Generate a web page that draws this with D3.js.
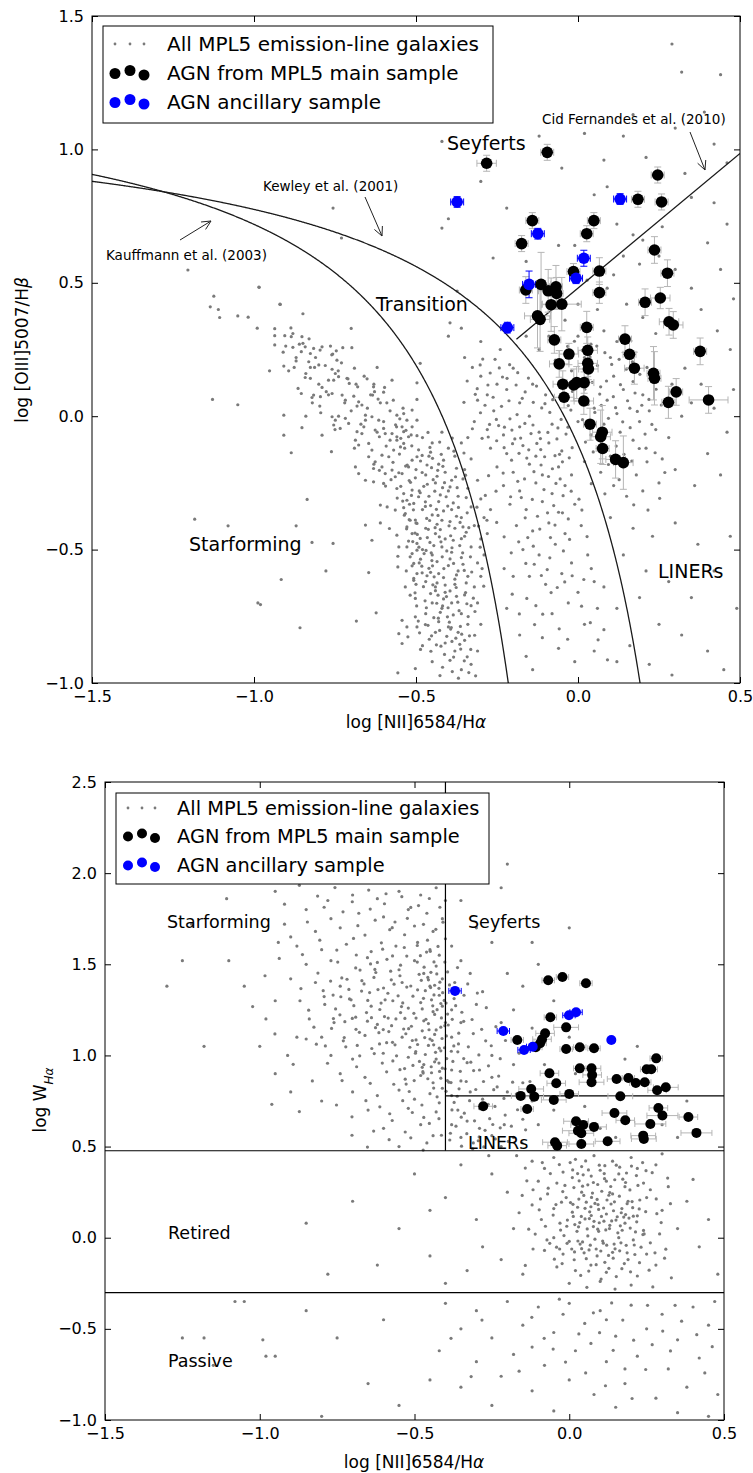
<!DOCTYPE html>
<html><head><meta charset="utf-8">
<script src="https://cdn.jsdelivr.net/npm/d3@7"></script>
<style>body{margin:0;background:#fff}text{font-family:"DejaVu Sans",sans-serif}</style>
</head><body><svg id="c" width="753" height="1473"></svg>
<script>
// ---------------- DATA ----------------
const xTicks = [-1.5,-1.0,-0.5,0.0,0.5];
const bptYTicks = [-1.0,-0.5,0.0,0.5,1.0,1.5];
const whanYTicks = [-1.0,-0.5,0.0,0.5,1.0,1.5,2.0,2.5];
const legendLabels = ["All MPL5 emission-line galaxies","AGN from MPL5 main sample","AGN ancillary sample"];

// BPT: AGN main sample
const bptAgnX = [-0.282,-0.095,0.246,0.185,0.258,-0.141,0.049,0.027,-0.174,0.236,0.276,-0.014,0.066,-0.161,-0.114,-0.092,-0.068,-0.066,0.066,0.207,0.254,-0.083,-0.050,-0.125,-0.117,0.027,0.281,0.294,-0.073,0.145,0.030,-0.028,0.159,0.377,-0.058,0.030,0.032,0.174,0.233,0.236,-0.047,-0.013,-0.004,0.019,0.303,0.279,0.403,-0.043,0.018,0.037,0.075,0.070,0.076,0.116,0.140];
const bptAgnY = [0.948,0.989,0.904,0.813,0.803,0.733,0.733,0.684,0.647,0.623,0.536,0.542,0.544,0.473,0.494,0.470,0.485,0.460,0.463,0.427,0.443,0.418,0.420,0.376,0.363,0.333,0.354,0.342,0.286,0.289,0.247,0.233,0.232,0.243,0.196,0.198,0.177,0.180,0.161,0.142,0.120,0.117,0.126,0.126,0.091,0.052,0.061,0.071,0.057,-0.030,-0.060,-0.077,-0.121,-0.162,-0.174];
const bptAgnXErr = [.03,.02,.02,.02,.02,.02,.02,.02,.02,.02,.02,.02,.02,.02,.03,.03,.02,.02,.02,.02,.03,.03,.06,.04,.03,.02,.03,.03,.02,.02,.03,.03,.02,.02,.03,.03,.03,.03,.02,.02,.03,.03,.03,.03,.02,.02,.06,.03,.03,.02,.03,.03,.02,.03,.03];
const bptAgnYErr = [.03,.03,.03,.03,.03,.03,.03,.03,.03,.05,.05,.03,.05,.05,.12,.08,.08,.06,.04,.05,.04,.10,.10,.12,.12,.06,.05,.05,.05,.05,.05,.04,.05,.05,.05,.05,.04,.06,.10,.10,.05,.06,.06,.04,.05,.06,.05,.04,.05,.06,.10,.10,.06,.07,.10];
// BPT: ancillary
const bptAncX = [-0.373,0.130,-0.124,0.018,-0.006,-0.151,-0.218];
const bptAncY = [0.803,0.814,0.684,0.592,0.517,0.494,0.332];
const bptAncXErr = [.02,.02,.02,.02,.02,.02,.02];
const bptAncYErr = [.02,.02,.02,.03,.02,.05,.02];

// WHAN: AGN main sample
const whanAgnX = [-0.068,-0.022,0.054,-0.061,-0.010,-0.078,-0.088,-0.168,-0.094,-0.108,-0.010,0.034,0.080,0.281,0.034,0.072,0.250,0.265,-0.064,0.074,-0.042,0.072,0.153,0.191,0.215,0.244,0.284,0.312,-0.123,-0.113,-0.157,-0.050,0.000,0.165,-0.278,-0.136,0.288,0.301,0.385,0.146,0.181,0.022,0.045,0.080,0.262,0.028,0.039,0.411,0.239,0.241,0.124,-0.046,-0.039,0.039];
const whanAgnY = [1.412,1.430,1.396,1.209,1.154,1.121,1.089,1.085,1.067,1.045,1.035,1.045,1.039,0.984,0.929,0.929,0.924,0.924,0.902,0.893,0.847,0.853,0.871,0.876,0.849,0.853,0.809,0.825,0.816,0.774,0.778,0.756,0.789,0.776,0.721,0.706,0.712,0.670,0.662,0.684,0.644,0.639,0.619,0.608,0.624,0.587,0.573,0.575,0.560,0.542,0.529,0.524,0.505,0.514];
const whanAgnXErr = [.02,.02,.02,.02,.04,.03,.03,.02,.02,.02,.02,.02,.02,.02,.02,.03,.02,.02,.03,.03,.03,.04,.03,.02,.02,.02,.03,.04,.04,.03,.03,.04,.03,.04,.03,.02,.03,.05,.03,.04,.03,.04,.04,.04,.05,.05,.04,.05,.04,.04,.04,.04,.03,.04];
const whanAgnYErr = [.01,.01,.01,.01,.02,.01,.01,.01,.01,.01,.01,.01,.01,.01,.01,.01,.01,.01,.02,.01,.01,.02,.01,.01,.01,.01,.01,.02,.01,.01,.01,.02,.01,.01,.01,.01,.01,.02,.01,.02,.01,.02,.01,.02,.02,.02,.01,.02,.02,.01,.01,.02,.01,.02];
// WHAN: ancillary
const whanAncX = [-0.369,-0.001,0.022,-0.213,0.136,-0.118,-0.146];
const whanAncY = [1.354,1.220,1.237,1.134,1.085,1.048,1.030];
const whanAncXErr = [.02,.02,.02,.02,.01,.02,.02];

// Gray: all MPL5 emission-line galaxies, BPT plane (flat x,y pairs)
const bptGray = [
-1.124,0.45,-1.135,0.41,-1.11,0.40,-1.106,0.37,-1.05,0.376,-1.018,0.371,-0.984,0.483,-0.919,0.419,-0.849,0.384,-0.99,0.33,
-0.936,0.328,-0.936,0.302,-0.936,0.267,-0.905,0.302,-0.886,0.331,-0.885,0.298,-0.902,0.263,-0.880,0.258,
-0.852,0.298,-0.849,0.273,-0.842,0.26,-0.854,0.242,-0.826,0.235,-0.816,0.254,-0.796,0.248,
-0.764,0.263,-0.746,0.245,-0.726,0.257,-0.698,0.257,-0.757,0.233,-0.744,0.21,
-0.908,0.188,-0.893,0.17,-0.876,0.183,-0.87,0.207,-0.831,0.204,-0.826,0.183,-0.813,0.183,-0.80,0.192,-0.952,0.17,
-0.842,0.145,-0.826,0.142,-0.864,0.104,-0.854,0.085,-0.821,0.07,-0.816,0.079,
-0.759,0.176,-0.749,0.16,-0.754,0.135,-0.739,0.148,-0.77,0.135,-0.713,0.142,-0.706,0.123,-0.685,0.12,-0.651,0.14,-0.62,0.183,
-0.79,0.108,-0.777,0.092,-0.795,0.073,-0.759,0.085,-0.728,0.079,-0.718,0.06,-0.692,0.075,-0.677,0.054,-0.667,0.042,-0.682,0.038,
-0.631,0.11,-0.628,0.092,-0.634,0.079,-0.597,0.108,-0.574,0.135,-0.617,0.064,-0.59,0.05,
-0.797,0.038,-0.794,0.013,-0.759,-0.002,-0.739,0.0,-0.718,-0.008,-0.754,-0.033,-0.734,-0.046,-0.708,-0.027,-0.749,-0.015,
-0.84,0.0,-0.908,0.004,-0.908,-0.071,-0.852,-0.043,-0.79,-0.071,-0.885,-0.137,-0.761,-0.133,-1.128,0.063,-1.05,0.043,
-0.682,-0.058,-0.661,-0.04,-0.667,-0.065,-0.687,-0.09,-0.677,-0.108,-0.646,-0.102,-0.656,-0.015,-0.636,-0.002,-0.656,0.004,
-0.615,-0.015,-0.6,-0.046,-0.595,-0.065,-0.626,-0.052,-0.613,-0.077,
-0.574,-0.065,-0.559,-0.077,-0.538,-0.058,-0.559,-0.09,-0.538,-0.102,-0.523,-0.077,-0.548,-0.115,-0.569,-0.127,-0.584,-0.152,-0.605,-0.146,
-0.636,-0.127,-0.646,-0.152,-0.626,-0.171,-0.605,-0.19,-0.631,-0.196,-0.595,-0.215,-0.574,-0.202,-0.564,-0.227,-0.543,-0.215,-0.523,-0.19,-0.512,-0.165,-0.497,-0.152,
-0.687,-0.19,-0.677,-0.215,-0.656,-0.24,-0.631,-0.246,-0.6,-0.252,-0.559,-0.271,-0.538,-0.29,-0.512,-0.277,-0.528,-0.315,-0.507,-0.327,-0.492,-0.302,
-0.61,-0.333,-0.589,-0.34,-0.564,-0.352,-0.533,-0.365,-0.518,-0.39,-0.497,-0.402,-0.528,-0.415,-0.512,-0.44,-0.497,-0.477,-0.528,-0.49,-0.512,-0.515,-0.497,-0.502,
-0.656,-0.408,-0.61,-0.40,-0.582,-0.421,-0.636,-0.465,-0.559,-0.446,-0.553,-0.49,-0.556,-0.525,-0.556,-0.565,
-0.836,-0.312,-1.183,-0.386,-1.08,-0.411,-0.87,-0.411,-0.821,-0.473,-0.756,-0.477,-0.778,-0.58,-0.646,-0.586,-0.916,-0.612,-0.98,-0.706,-0.623,-0.737,-0.684,-0.768,-0.858,-0.793,
-0.507,-0.552,-0.497,-0.59,-0.533,-0.64,-0.518,-0.671,-0.502,-0.683,-0.507,-0.615,-0.543,-0.765,-0.528,-0.79,-0.553,-0.815,-0.525,-0.827,-0.543,-0.852,-0.502,-0.752,-0.497,-0.79,
-0.556,-0.962,-0.502,-0.946,-0.70,0.329,-0.497,0.125,-0.497,0.063,-0.487,0.198,
-0.559,0.004,-0.538,0.01,-0.512,0.023,-0.528,-0.015,-0.543,-0.04,-0.512,-0.04,-0.497,-0.015,
-0.48,-0.08,-0.45,-0.10,-0.42,-0.06,-0.40,-0.12,-0.46,-0.15,-0.43,-0.18,-0.38,-0.15,-0.36,-0.10,-0.50,-0.20,-0.47,-0.22,-0.44,-0.25,-0.41,-0.21,-0.39,-0.24,-0.35,-0.20,-0.33,-0.16,
-0.49,-0.28,-0.46,-0.30,-0.43,-0.32,-0.40,-0.28,-0.37,-0.30,-0.34,-0.27,-0.31,-0.24,-0.52,-0.33,-0.48,-0.35,-0.45,-0.37,-0.42,-0.39,-0.39,-0.35,-0.36,-0.38,-0.33,-0.34,-0.30,-0.31,
-0.50,-0.40,-0.47,-0.42,-0.44,-0.44,-0.41,-0.46,-0.38,-0.42,-0.35,-0.45,-0.32,-0.41,-0.29,-0.38,-0.51,-0.47,-0.48,-0.50,-0.45,-0.52,-0.42,-0.49,-0.39,-0.51,-0.36,-0.53,-0.33,-0.49,-0.30,-0.46,
-0.49,-0.55,-0.46,-0.57,-0.43,-0.59,-0.40,-0.56,-0.37,-0.58,-0.34,-0.60,-0.31,-0.55,-0.47,-0.62,-0.44,-0.64,-0.41,-0.66,-0.38,-0.63,-0.35,-0.67,-0.32,-0.64,
-0.45,-0.70,-0.42,-0.72,-0.39,-0.70,-0.36,-0.74,-0.33,-0.71,-0.43,-0.77,-0.40,-0.79,-0.37,-0.81,-0.34,-0.78,-0.41,-0.85,-0.38,-0.88,-0.35,-0.84,
-0.455,-0.135,-0.415,-0.165,-0.375,-0.195,-0.435,-0.225,-0.465,-0.255,-0.395,-0.265,-0.355,-0.235,-0.425,-0.295,-0.385,-0.325,-0.345,-0.305,-0.455,-0.335,-0.415,-0.355,-0.375,-0.375,
-0.435,-0.405,-0.395,-0.395,-0.355,-0.415,-0.465,-0.455,-0.425,-0.425,-0.385,-0.465,-0.345,-0.435,-0.445,-0.485,-0.405,-0.505,-0.365,-0.485,-0.475,-0.515,-0.435,-0.545,-0.395,-0.535,
-0.355,-0.555,-0.455,-0.585,-0.415,-0.605,-0.375,-0.595,-0.345,-0.625,-0.435,-0.625,-0.395,-0.655,-0.455,-0.665,-0.415,-0.685,-0.375,-0.675,-0.425,-0.735,-0.385,-0.745,-0.445,-0.755,
-0.405,-0.825,-0.365,-0.855,-0.395,-0.915,-0.36,-0.95,-0.44,-0.81,-0.47,-0.74,-0.50,-0.63,-0.53,-0.58,-0.31,-0.70,-0.30,-0.60,-0.29,-0.52,-0.28,-0.44,-0.27,-0.35,-0.31,-0.88,-0.33,-0.93,-0.45,-0.92,-0.48,-0.86,-0.30,-0.78,
-0.30,0.15,-0.25,0.12,-0.28,0.08,-0.22,0.10,-0.18,0.05,-0.26,0.02,-0.21,-0.01,-0.15,0.00,-0.32,-0.02,-0.28,-0.05,-0.23,-0.07,-0.18,-0.04,-0.12,-0.06,-0.08,-0.03,
-0.27,-0.12,-0.22,-0.14,-0.17,-0.11,-0.13,-0.15,-0.09,-0.10,-0.05,-0.13,-0.25,-0.19,-0.20,-0.21,-0.15,-0.18,-0.11,-0.22,-0.06,-0.19,-0.02,-0.22,
-0.23,-0.26,-0.18,-0.28,-0.13,-0.25,-0.08,-0.29,-0.04,-0.26,-0.21,-0.33,-0.16,-0.35,-0.11,-0.32,-0.06,-0.36,-0.01,-0.33,-0.19,-0.41,-0.14,-0.43,-0.09,-0.40,-0.04,-0.44,0.01,-0.41,
-0.17,-0.50,-0.12,-0.52,-0.07,-0.48,-0.02,-0.55,-0.15,-0.60,-0.10,-0.63,-0.05,-0.59,0.00,-0.66,-0.13,-0.71,-0.08,-0.74,-0.03,-0.70,0.02,-0.78,-0.11,-0.83,-0.06,-0.87,-0.01,-0.92,-0.14,-0.95,0.05,-0.88,
-0.35,0.22,-0.30,0.28,-0.24,0.25,-0.20,0.18,-0.14,0.12,-0.10,0.08,-0.40,0.30,-0.36,0.33,-0.31,0.06,-0.34,-0.08,
-0.245,-0.035,-0.195,-0.085,-0.145,-0.065,-0.115,-0.125,-0.065,-0.085,-0.205,-0.165,-0.165,-0.235,-0.105,-0.275,-0.055,-0.235,-0.175,-0.305,-0.125,-0.375,-0.075,-0.335,-0.03,-0.385,
-0.155,-0.455,-0.085,-0.455,-0.045,-0.505,-0.135,-0.555,-0.095,-0.575,0.03,-0.52,0.05,-0.62,0.06,-0.72,0.08,-0.80,-0.20,-0.60,-0.22,-0.72,-0.18,-0.82,-0.16,-0.90,
0.00,0.30,0.04,0.27,0.08,0.32,0.12,0.28,0.15,0.24,0.10,0.22,0.06,0.19,0.02,0.22,-0.02,0.17,0.03,0.14,0.07,0.11,0.11,0.15,0.14,0.10,0.17,0.13,0.20,0.08,
0.09,0.06,0.05,0.03,0.01,0.07,-0.03,0.04,0.12,0.01,0.16,0.03,0.19,-0.02,0.22,0.02,0.08,-0.03,0.04,-0.07,0.00,-0.02,0.13,-0.06,0.17,-0.09,0.21,-0.12,0.24,-0.05,
0.06,-0.12,0.10,-0.15,0.14,-0.19,0.18,-0.22,0.26,-0.16,0.02,-0.17,0.07,-0.21,0.11,-0.26,0.15,-0.30,0.20,-0.28,0.25,-0.25,0.30,-0.20,0.28,-0.08,0.32,0.00,
0.35,0.05,0.29,0.12,0.33,0.18,0.38,0.12,0.42,0.03,0.46,-0.06,0.40,-0.14,0.36,-0.26,0.44,-0.22,0.48,0.10,0.47,0.25,0.43,0.32,0.38,0.40,0.35,0.48,0.44,0.55,0.48,0.44,
0.30,0.55,0.25,0.60,0.20,0.66,0.40,0.65,0.46,0.72,0.42,0.80,0.35,0.82,0.21,0.97,0.14,1.05,0.30,1.08,0.39,1.14,0.29,1.395,0.32,1.29,0.44,1.28,0.08,0.96,0.02,1.06,-0.05,0.93,
-0.22,0.78,-0.30,0.88,-0.40,0.74,-0.16,0.58,-0.06,0.64,0.09,0.86,0.12,0.72,0.17,0.68,0.19,0.57,0.14,0.60,0.09,0.48,0.15,0.42,0.20,0.37,0.24,0.31,0.06,0.40,0.00,0.42,-0.04,0.36,-0.09,0.30,-0.12,0.25,-0.07,0.21,-0.16,0.30,
0.10,-0.38,0.17,-0.42,0.23,-0.45,0.30,-0.40,0.37,-0.48,0.14,-0.52,0.21,-0.58,0.28,-0.62,0.35,-0.68,0.42,-0.58,0.47,-0.45,0.49,-0.72,0.19,-0.68,0.12,-0.72,0.25,-0.78,0.32,-0.82,0.40,-0.88,0.16,-0.86,0.22,-0.93,0.29,-0.97,0.45,-0.95,0.08,-0.64,0.12,-0.92,
-0.756,0.78,-0.73,0.668,-0.42,1.03,-0.42,0.705,-0.262,0.593,-0.373,0.469,-1.204,0.548,-0.985,0.484,-0.92,0.42,-0.395,0.35,-0.988,-0.70,
-0.88,0.31,-0.86,0.27,-0.83,0.29,-0.81,0.22,-0.79,0.26,-0.78,0.19,-0.76,0.23,-0.74,0.17,-0.73,0.20,-0.71,0.14,-0.69,0.18,-0.68,0.11,-0.66,0.15,-0.64,0.08,-0.63,0.12,-0.61,0.05,-0.60,0.09,
-0.58,0.02,-0.57,0.06,-0.55,-0.01,-0.54,0.03,-0.72,0.05,-0.70,0.02,-0.67,-0.03,-0.65,0.03,-0.62,-0.06,-0.60,-0.02,-0.58,-0.09,-0.56,-0.04,-0.535,-0.12,-0.515,-0.07,-0.80,0.12,-0.77,0.08,
-0.84,0.16,-0.87,0.22,-0.91,0.24,-0.82,0.05,-0.75,-0.05,-0.69,-0.12,-0.63,-0.18,
-0.553,-0.212,-0.547,-0.263,-0.541,-0.318,-0.536,-0.371,-0.529,-0.422,-0.523,-0.468,-0.518,-0.527,-0.512,-0.561,-0.507,-0.608,-0.503,-0.662,-0.498,-0.711,-0.493,-0.768,-0.489,-0.812,-0.486,-0.874,
-0.527,-0.183,-0.521,-0.241,-0.514,-0.297,-0.508,-0.351,-0.502,-0.389,-0.496,-0.443,-0.491,-0.491,-0.486,-0.536,-0.481,-0.587,-0.477,-0.639,-0.472,-0.692,-0.468,-0.718,-0.463,-0.784,-0.459,-0.836,-0.454,-0.881,
-0.492,-0.126,-0.486,-0.168,-0.481,-0.211,-0.476,-0.263,-0.471,-0.321,-0.467,-0.383,-0.462,-0.424,-0.457,-0.473,-0.453,-0.512,-0.449,-0.561,-0.444,-0.602,-0.440,-0.654,-0.436,-0.701,-0.431,-0.757,-0.427,-0.803,-0.423,-0.862,-0.418,-0.941,
-0.463,-0.061,-0.457,-0.117,-0.452,-0.193,-0.447,-0.238,-0.442,-0.281,-0.437,-0.349,-0.432,-0.372,-0.428,-0.452,-0.423,-0.471,-0.419,-0.527,-0.414,-0.571,-0.410,-0.633,-0.406,-0.676,-0.401,-0.718,-0.397,-0.772,-0.393,-0.798,-0.389,-0.844,-0.384,-0.903,
-0.427,-0.097,-0.422,-0.143,-0.417,-0.188,-0.412,-0.249,-0.407,-0.302,-0.402,-0.337,-0.398,-0.411,-0.393,-0.448,-0.389,-0.493,-0.384,-0.552,-0.380,-0.611,-0.376,-0.642,-0.371,-0.697,-0.367,-0.729,-0.363,-0.788,-0.359,-0.817,
-0.388,-0.082,-0.383,-0.131,-0.378,-0.227,-0.373,-0.268,-0.369,-0.342,-0.364,-0.398,-0.360,-0.459,-0.356,-0.512,-0.351,-0.578,-0.347,-0.661,-0.343,-0.703,-0.339,-0.751,-0.335,-0.823,-0.331,-0.874,
-0.352,-0.138,-0.347,-0.221,-0.342,-0.362,-0.337,-0.418,-0.332,-0.527,-0.328,-0.584,-0.323,-0.682,-0.318,-0.732,-0.312,-0.341,-0.307,-0.412,-0.302,-0.491,-0.296,-0.571,-0.291,-0.637,-0.286,-0.297,-0.281,-0.39,
-0.326,0.183,-0.294,0.214,-0.271,0.162,-0.243,0.181,-0.219,0.142,-0.191,0.117,-0.163,0.091,-0.138,0.052,-0.112,0.031,-0.087,0.014,-0.062,-0.044,-0.037,-0.067,-0.018,-0.118,
-0.311,0.103,-0.287,0.041,-0.262,0.071,-0.236,0.037,-0.213,0.058,-0.188,0.006,-0.164,-0.027,-0.139,-0.033,-0.116,-0.084,-0.093,-0.061,-0.071,-0.148,-0.048,-0.171,-0.027,-0.156,
-0.296,-0.083,-0.273,-0.031,-0.251,-0.092,-0.228,-0.118,-0.204,-0.052,-0.182,-0.139,-0.158,-0.157,-0.136,-0.208,-0.114,-0.183,-0.091,-0.226,-0.068,-0.252,-0.046,-0.298,-0.021,-0.281,0.003,-0.311,
-0.276,-0.223,-0.253,-0.281,-0.231,-0.213,-0.208,-0.302,-0.186,-0.244,-0.163,-0.381,-0.141,-0.312,-0.118,-0.423,-0.094,-0.362,-0.071,-0.408,-0.048,-0.362,-0.026,-0.462,0.012,-0.352,0.028,-0.451,
-0.251,-0.398,-0.228,-0.452,-0.206,-0.512,-0.183,-0.471,-0.161,-0.552,-0.138,-0.487,-0.113,-0.597,-0.087,-0.531,-0.064,-0.642,-0.041,-0.621,-0.018,-0.598,0.018,-0.612,0.041,-0.571,
-0.228,-0.571,-0.203,-0.667,-0.181,-0.741,-0.158,-0.683,-0.134,-0.781,-0.109,-0.742,-0.083,-0.661,-0.058,-0.797,-0.032,-0.836,0.011,-0.712,0.038,-0.774,0.062,-0.838,0.091,-0.913,
-0.032,0.262,-0.011,0.281,0.013,0.247,0.037,0.222,0.058,0.263,0.083,0.238,0.104,0.194,0.127,0.213,0.149,0.176,0.168,0.204,0.191,0.157,0.213,0.183,
-0.041,0.118,-0.017,0.093,0.021,0.101,0.044,0.127,0.067,0.083,0.088,0.132,0.109,0.073,0.131,0.118,0.153,0.058,0.176,0.087,0.197,0.041,0.219,0.063,0.241,0.101,
-0.022,0.023,0.014,-0.013,0.031,0.044,0.052,0.014,0.072,0.041,0.094,-0.008,0.116,0.032,0.138,-0.021,0.161,-0.043,0.183,0.018,0.207,-0.067,0.228,-0.031,0.257,0.042,
0.023,-0.097,0.047,-0.134,0.071,-0.093,0.094,-0.181,0.118,-0.112,0.142,-0.143,0.166,-0.168,0.189,-0.121,0.213,-0.171,0.238,-0.137,0.268,-0.211,0.041,-0.253,0.083,-0.291,0.127,-0.238,0.172,-0.332,0.216,-0.352,0.252,-0.308,
0.028,0.51,0.11,0.53,-0.01,0.64,0.26,0.71,0.33,0.91,0.42,1.02,0.46,0.95,0.17,1.13,-0.12,1.05,0.05,0.83,
-0.592,-0.112,-0.571,-0.173,-0.551,-0.142,-0.532,-0.187,-0.517,-0.248,-0.502,-0.231,-0.487,-0.287,-0.471,-0.338,-0.458,-0.391,-0.441,-0.418,
-0.613,-0.203,-0.594,-0.262,-0.577,-0.238,-0.558,-0.307,-0.538,-0.343,-0.521,-0.388,-0.503,-0.438,-0.487,-0.458,-0.469,-0.503,-0.451,-0.541,
-0.563,-0.032,-0.547,-0.083,-0.531,-0.053,-0.513,-0.111,-0.497,-0.073,-0.481,-0.147,-0.466,-0.183,-0.449,-0.158,-0.433,-0.203,-0.418,-0.268,
-0.482,-0.562,-0.466,-0.598,-0.448,-0.632,-0.432,-0.671,-0.418,-0.711,-0.403,-0.752,-0.391,-0.792,-0.377,-0.832,-0.362,-0.873,-0.351,-0.917,-0.337,-0.961,
-0.471,-0.781,-0.452,-0.823,-0.437,-0.857,-0.412,-0.893,-0.388,-0.957,-0.369,-0.982,-0.426,-0.972,-0.342,-0.902,-0.319,-0.821,-0.316,-0.973,
-0.342,0.132,-0.317,0.082,-0.302,0.192,-0.278,0.117,-0.256,0.213,-0.233,0.147,-0.211,0.193,-0.186,0.163,-0.172,0.067,-0.153,0.143,-0.128,0.113,-0.102,0.047,-0.078,0.062,-0.052,-0.012,-0.031,-0.041,
-0.352,0.052,-0.326,-0.047,-0.301,0.013,-0.277,-0.078,-0.252,-0.012,-0.227,-0.041,-0.202,-0.103,-0.177,-0.082,-0.152,-0.126,-0.127,-0.102,-0.103,-0.152,-0.079,-0.197,-0.057,-0.143
];

// Gray: WHAN plane (flat x,y pairs)
const whanGray = [
-0.95,1.90,-0.88,1.95,-0.80,2.00,-0.72,1.98,-0.65,2.02,-0.58,1.96,-0.50,2.05,-0.45,1.98,-0.42,2.10,-0.62,2.12,-0.70,2.08,-0.78,1.85,-0.70,1.88,-0.62,1.86,-0.55,1.90,-0.48,1.88,-0.43,1.92,-0.40,1.85,
-0.85,1.80,-0.77,1.75,-0.68,1.78,-0.60,1.76,-0.52,1.80,-0.46,1.78,-0.41,1.75,-0.92,1.72,-0.82,1.68,-0.74,1.70,-0.66,1.66,-0.58,1.69,-0.50,1.71,-0.44,1.68,-0.40,1.64,
-0.88,1.60,-0.80,1.58,-0.72,1.61,-0.64,1.57,-0.56,1.60,-0.49,1.62,-0.45,1.58,-0.42,1.55,-0.85,1.50,-0.77,1.52,-0.69,1.48,-0.62,1.51,-0.55,1.47,-0.50,1.52,-0.47,1.45,-0.43,1.49,-0.41,1.42,
-0.90,1.42,-0.82,1.40,-0.74,1.38,-0.67,1.41,-0.60,1.37,-0.54,1.40,-0.49,1.36,-0.45,1.38,-0.42,1.33,-0.87,1.30,-0.79,1.28,-0.71,1.31,-0.64,1.27,-0.57,1.30,-0.52,1.26,-0.48,1.29,-0.44,1.24,-0.41,1.27,
-0.84,1.20,-0.76,1.18,-0.69,1.21,-0.62,1.17,-0.56,1.20,-0.51,1.16,-0.47,1.19,-0.43,1.14,-0.40,1.18,-0.80,1.10,-0.73,1.08,-0.66,1.11,-0.59,1.07,-0.54,1.10,-0.49,1.06,-0.45,1.09,-0.42,1.04,
-0.77,1.00,-0.70,0.98,-0.63,1.01,-0.57,0.97,-0.52,0.99,-0.47,0.95,-0.43,0.98,-0.41,0.93,-0.74,0.90,-0.66,0.88,-0.59,0.91,-0.53,0.87,-0.48,0.89,-0.44,0.85,-0.41,0.82,
-0.70,0.80,-0.62,0.78,-0.55,0.81,-0.50,0.76,-0.45,0.79,-0.42,0.74,-0.65,0.70,-0.58,0.68,-0.52,0.71,-0.47,0.66,-0.43,0.69,-0.60,0.60,-0.53,0.58,-0.48,0.62,-0.44,0.56,-0.55,0.50,-0.46,0.52,
-0.98,1.20,-1.00,1.05,-0.95,1.30,-1.05,1.38,-1.10,1.52,-0.94,1.62,-0.90,1.65,-1.107,1.86,-0.92,1.83,-0.95,0.90,-0.91,1.00,-0.88,1.10,-0.85,1.09,-1.25,1.52,-1.22,1.72,-1.30,1.38,-1.18,1.05,-0.83,0.86,-0.80,0.75,-0.90,0.80,
-0.485,1.445,-0.455,1.415,-0.435,1.385,-0.465,1.355,-0.505,1.325,-0.445,1.305,-0.415,1.285,-0.475,1.255,-0.435,1.225,-0.495,1.205,-0.455,1.175,-0.415,1.155,-0.475,1.135,-0.435,1.115,
-0.495,1.085,-0.455,1.055,-0.415,1.025,-0.465,1.005,-0.435,0.965,-0.475,0.935,-0.445,0.905,-0.415,0.875,-0.525,1.375,-0.545,1.235,-0.535,1.145,-0.515,1.045,-0.505,0.945,-0.545,1.495,
-0.525,1.545,-0.575,1.415,-0.595,1.305,-0.585,1.205,-0.615,1.125,-0.625,1.455,-0.645,1.345,-0.655,1.235,-0.705,1.305,-0.725,1.185,-0.685,1.055,-0.755,1.255,-0.735,1.425,-0.795,1.355,-0.825,1.155,
-0.38,1.60,-0.35,1.52,-0.32,1.45,-0.37,1.40,-0.34,1.33,-0.30,1.28,-0.38,1.25,-0.35,1.18,-0.31,1.12,-0.27,1.08,-0.38,1.10,-0.36,1.02,-0.33,0.96,-0.29,0.92,-0.25,0.88,
-0.38,0.92,-0.35,0.86,-0.32,0.80,-0.28,0.76,-0.24,0.72,-0.38,0.78,-0.36,0.70,-0.33,0.64,-0.29,0.60,-0.25,0.56,-0.21,0.62,-0.38,0.62,-0.35,0.55,-0.31,0.52,-0.22,0.50,-0.18,0.55,
-0.15,0.65,-0.20,0.80,-0.18,0.95,-0.15,0.85,-0.12,0.75,-0.10,0.62,-0.25,1.00,-0.22,1.18,-0.28,1.35,-0.18,1.25,-0.12,1.15,-0.08,0.95,-0.05,0.70,-0.30,1.70,-0.25,1.62,-0.20,1.45,
-0.15,1.38,-0.35,1.85,-0.38,1.95,-0.10,1.50,-0.05,1.30,0.02,0.90,0.05,0.72,0.10,0.60,0.15,0.55,0.18,0.98,0.30,0.62,0.35,0.55,0.38,0.75,0.22,1.05,0.00,1.10,-0.12,1.62,-0.22,1.92,
-0.20,2.05,-0.30,2.15,-0.40,2.33,-0.55,2.22,-0.38,2.42,0.00,1.70,
-0.872,1.933,-0.813,1.874,-0.757,1.921,-0.701,1.843,-0.648,1.907,-0.597,1.832,-0.541,1.871,-0.487,1.822,-0.452,1.861,-0.418,1.813,
-0.846,1.732,-0.792,1.813,-0.731,1.788,-0.683,1.712,-0.627,1.742,-0.572,1.701,-0.523,1.752,-0.471,1.719,-0.431,1.692,-0.408,1.731,
-0.862,1.553,-0.806,1.632,-0.751,1.578,-0.697,1.642,-0.652,1.536,-0.607,1.618,-0.571,1.546,-0.533,1.592,-0.491,1.512,-0.461,1.567,-0.424,1.598,-0.402,1.512,
-0.867,1.367,-0.812,1.452,-0.763,1.331,-0.718,1.418,-0.671,1.353,-0.628,1.472,-0.586,1.341,-0.547,1.437,-0.512,1.381,-0.478,1.412,-0.447,1.456,-0.421,1.368,-0.404,1.302,
-0.842,1.248,-0.792,1.323,-0.741,1.223,-0.696,1.273,-0.652,1.188,-0.612,1.252,-0.574,1.163,-0.538,1.288,-0.502,1.231,-0.471,1.313,-0.441,1.272,-0.413,1.206,
-0.817,1.062,-0.768,1.148,-0.722,1.047,-0.678,1.127,-0.638,1.038,-0.601,1.142,-0.563,1.058,-0.528,1.119,-0.497,1.012,-0.467,1.098,-0.438,1.058,-0.411,1.093,
-0.781,0.957,-0.734,0.862,-0.687,0.938,-0.643,0.847,-0.604,0.958,-0.567,0.842,-0.532,0.928,-0.501,0.862,-0.472,0.903,-0.446,0.938,-0.419,0.912,
-0.752,0.728,-0.702,0.663,-0.657,0.752,-0.612,0.718,-0.572,0.643,-0.538,0.752,-0.507,0.687,-0.476,0.728,-0.452,0.627,-0.421,0.653,-0.413,0.562,-0.512,0.548,-0.582,0.538,-0.632,0.585,
-0.937,1.532,-0.983,1.437,-0.951,1.118,-1.023,1.268,-0.892,0.951,-0.872,0.692,-0.961,0.732,-0.702,0.562,-0.652,0.497,-0.472,0.481,
-0.393,1.458,-0.372,1.312,-0.361,1.482,-0.347,1.237,-0.328,1.392,-0.314,1.197,-0.297,1.342,-0.283,1.143,-0.268,1.262,-0.252,1.053,-0.237,1.158,-0.223,0.982,-0.206,1.082,
-0.391,1.167,-0.373,1.052,-0.357,1.122,-0.341,0.983,-0.326,1.047,-0.309,0.917,-0.292,1.003,-0.277,0.857,-0.261,0.943,-0.244,0.812,-0.228,0.887,-0.211,0.764,
-0.389,0.853,-0.372,0.742,-0.356,0.817,-0.339,0.683,-0.322,0.752,-0.306,0.641,-0.289,0.708,-0.272,0.589,-0.257,0.653,-0.239,0.542,-0.223,0.603,-0.197,0.528,
-0.386,0.536,-0.366,0.612,-0.348,0.502,-0.331,0.571,-0.312,0.487,-0.294,0.532,-0.276,0.498,-0.167,0.702,-0.183,0.853,-0.162,1.012,-0.141,0.592,-0.127,0.857,
-0.603,1.583,-0.589,1.527,-0.577,1.462,-0.566,1.391,-0.553,1.327,-0.542,1.268,-0.531,1.203,-0.519,1.147,-0.507,1.082,-0.496,1.021,-0.484,0.967,-0.473,0.911,
-0.458,1.632,-0.449,1.571,-0.437,1.513,-0.428,1.447,-0.418,1.402,-0.409,1.344,-0.398,1.287,-0.393,1.227,-0.402,1.163,-0.397,1.107,-0.403,1.042,-0.396,0.983,-0.401,0.927,-0.394,0.862,-0.398,0.803,
-0.491,1.603,-0.481,1.547,-0.469,1.484,-0.457,1.428,-0.448,1.372,-0.437,1.332,-0.427,1.251,-0.463,1.198,-0.453,1.141,-0.443,1.082,-0.432,1.017,-0.421,0.958,-0.457,0.872,-0.438,0.821,-0.427,0.773,
-0.642,1.502,-0.631,1.428,-0.618,1.361,-0.608,1.287,-0.597,1.213,-0.583,1.131,-0.571,1.072,-0.558,0.998,-0.547,0.922,-0.527,0.843,-0.517,0.802,
-0.688,1.551,-0.676,1.468,-0.663,1.392,-0.651,1.302,-0.639,1.207,-0.626,1.152,-0.613,1.063,-0.601,1.012,-0.712,1.362,-0.701,1.203,-0.689,1.143,-0.677,0.998,-0.748,1.512,-0.738,1.322,-0.727,1.098,-0.771,1.408,-0.762,1.202,-0.788,1.052,
-0.532,1.662,-0.563,1.732,-0.512,1.812,-0.592,1.887,-0.473,1.953,-0.643,1.803,-0.671,1.952,-0.512,2.023,-0.447,2.052,-0.553,2.101,
-0.387,1.387,-0.378,1.198,-0.381,1.023,-0.376,0.967,-0.382,0.851,-0.379,0.701,-0.384,0.573,-0.367,1.273,-0.358,1.063,-0.352,0.913,-0.362,0.776,-0.349,0.661,-0.341,1.187,-0.333,0.857,-0.318,0.963,
-0.302,0.813,-0.291,0.553,-0.262,0.732,-0.247,0.621,-0.233,0.827,-0.207,0.673,-0.187,0.612,-0.171,0.788,-0.153,0.521,
-0.12,0.42,-0.05,0.44,0.02,0.43,0.08,0.45,0.14,0.42,0.20,0.44,-0.08,0.38,-0.02,0.36,0.04,0.39,0.10,0.37,0.16,0.35,0.22,0.38,-0.10,0.31,-0.04,0.30,0.01,0.33,0.06,0.29,0.12,0.31,0.18,0.28,0.24,0.30,
-0.07,0.24,-0.01,0.22,0.04,0.25,0.09,0.21,0.14,0.24,0.19,0.20,0.25,0.22,-0.12,0.18,-0.05,0.16,0.01,0.14,0.07,0.17,0.12,0.13,0.17,0.16,0.22,0.12,-0.09,0.10,-0.03,0.08,0.03,0.06,0.08,0.09,
0.13,0.05,0.18,0.08,0.24,0.04,-0.11,0.02,-0.05,0.00,0.00,-0.02,0.06,0.01,0.11,-0.03,0.16,0.00,0.21,-0.04,-0.08,-0.07,-0.02,-0.09,0.04,-0.06,0.09,-0.10,0.14,-0.08,0.19,-0.12,0.25,-0.09,
-0.04,-0.16,0.02,-0.18,0.07,-0.15,0.12,-0.19,0.17,-0.17,0.22,-0.21,0.00,-0.25,0.10,-0.24,0.20,-0.26,
0.015,0.275,0.055,0.195,0.095,0.155,0.105,0.255,0.135,0.185,0.155,0.115,0.065,0.105,0.025,0.035,0.095,0.035,0.145,-0.035,0.055,-0.115,0.115,-0.135,0.165,0.065,0.205,0.165,-0.025,0.195,
0.045,0.345,0.115,0.395,0.185,0.355,0.075,0.245,0.035,-0.035,
-0.087,0.412,-0.061,0.352,-0.032,0.401,-0.014,0.287,0.011,0.372,0.032,0.312,0.053,0.421,0.071,0.338,0.092,0.292,0.113,0.352,0.134,0.281,0.152,0.398,0.173,0.321,0.196,0.262,0.217,0.341,0.237,0.412,
-0.093,0.213,-0.068,0.272,-0.043,0.182,-0.021,0.253,0.004,0.193,0.027,0.167,0.047,0.232,0.066,0.142,0.083,0.188,0.104,0.117,0.122,0.207,0.143,0.148,0.162,0.228,0.182,0.127,0.203,0.198,0.226,0.158,0.247,0.143,
-0.077,0.063,-0.052,0.124,-0.028,0.042,-0.006,0.097,0.018,0.072,0.039,0.117,0.058,0.048,0.078,0.061,0.097,0.082,0.118,0.043,0.137,0.092,0.157,0.027,0.176,0.113,0.197,0.053,0.218,0.087,0.238,0.017,
-0.063,-0.031,-0.041,-0.052,-0.017,0.012,0.008,-0.062,0.028,-0.018,0.048,-0.083,0.068,-0.041,0.087,-0.062,0.108,-0.018,0.127,-0.097,0.148,-0.061,0.167,-0.028,0.187,-0.083,0.207,-0.012,0.232,-0.052,
-0.048,-0.118,-0.023,-0.142,0.016,-0.121,0.037,-0.207,0.063,-0.183,0.087,-0.148,0.103,-0.227,0.128,-0.168,0.152,-0.213,0.178,-0.142,0.198,-0.187,0.227,-0.137,0.258,-0.178,
0.268,0.357,0.281,0.213,0.297,0.083,0.312,-0.063,0.262,-0.028,-0.137,0.312,-0.162,0.137,-0.117,-0.062,-0.142,-0.152,0.057,-0.272,0.148,-0.282,
-0.142,0.382,-0.117,0.263,-0.097,0.153,-0.072,-0.012,-0.131,0.047,-0.152,0.232,0.262,0.263,0.283,0.132,0.292,0.021,0.308,-0.112,0.277,-0.083,0.248,0.368,0.318,0.327,0.327,0.187,
0.003,0.412,0.027,0.352,0.043,0.283,0.062,0.372,0.078,0.303,0.097,0.398,0.114,0.324,0.131,0.248,0.147,0.318,0.163,0.387,0.182,0.303,0.201,0.393,0.222,0.287,
0.012,0.183,0.031,0.212,0.051,0.161,0.072,0.221,0.093,0.182,0.111,0.163,0.128,0.233,0.146,0.197,0.168,0.137,0.187,0.187,0.207,0.118,0.228,0.207,
-0.008,0.063,0.013,0.117,0.034,0.083,0.051,0.103,0.071,0.122,0.092,0.047,0.112,0.091,0.131,0.068,0.151,0.097,0.171,0.041,0.193,0.108,0.214,0.032,
-0.031,-0.062,-0.007,-0.031,0.017,-0.078,0.043,-0.023,0.064,-0.067,0.083,-0.008,0.102,-0.073,0.121,-0.041,0.142,-0.112,0.163,-0.072,0.184,-0.042,0.212,-0.092,0.242,0.021,
-0.35,0.40,-0.40,0.22,-0.45,0.15,-0.30,0.10,-0.25,0.35,-0.20,0.25,-0.28,-0.05,-0.22,-0.12,-0.18,0.05,-0.15,-0.20,-0.33,-0.18,-0.45,-0.10,-0.40,-0.25,0.28,0.40,0.32,0.28,0.30,0.15,
0.35,0.05,0.28,-0.15,0.33,-0.22,0.38,0.20,0.42,-0.05,0.45,0.10,0.40,0.32,0.48,-0.20,0.27,-0.27,-0.55,0.05,-0.62,-0.15,-0.70,0.20,-0.50,0.35,-0.17,0.45,-0.26,0.45,0.30,0.46,-0.85,0.08,-0.78,-0.20,
-0.40,-0.36,-0.30,-0.40,-0.20,-0.35,-0.10,-0.38,0.00,-0.36,0.10,-0.40,0.20,-0.37,0.30,-0.42,0.40,-0.38,0.47,-0.35,-0.35,-0.50,-0.25,-0.55,-0.15,-0.48,-0.05,-0.52,0.05,-0.47,0.15,-0.54,
0.25,-0.50,0.35,-0.56,0.45,-0.48,-0.42,-0.62,-0.30,-0.68,-0.18,-0.64,-0.08,-0.70,0.02,-0.62,0.12,-0.68,0.22,-0.65,0.32,-0.72,0.42,-0.66,-0.45,-0.78,-0.35,-0.82,-0.22,-0.76,-0.12,-0.84,
0.00,-0.78,0.08,-0.86,0.18,-0.80,0.28,-0.88,0.38,-0.82,0.48,-0.86,-0.25,-0.92,-0.05,-0.95,0.15,-0.93,0.35,-0.96,0.45,-0.98,-0.02,-0.42,0.07,-0.58,0.12,-0.45,-0.12,-0.60,0.18,-0.72,
-0.6,-0.45,-0.75,-0.55,-0.85,-0.40,-1.05,-0.35,-0.95,-0.65,-1.25,-0.55,-0.65,-0.80,-1.15,-0.70,-0.55,-0.92,-0.80,-0.98,-1.08,-0.35,-0.99,-0.56,-0.98,-0.65,-1.18,-0.55,
-0.282,-0.452,-0.121,-0.437,-0.052,-0.611,0.031,-0.528,0.078,-0.412,0.098,-0.521,0.142,-0.618,0.173,-0.452,0.208,-0.562,0.247,-0.723,0.268,-0.587,0.302,-0.512,0.327,-0.621,0.363,-0.458,
0.412,-0.532,0.438,-0.742,-0.162,-0.732,-0.081,-0.552,-0.012,-0.682,0.053,-0.742,0.117,-0.812,0.203,-0.882,0.253,-0.371,0.342,-0.371,-0.382,-0.552,-0.317,-0.762,0.462,-0.598,0.137,-0.358,-0.032,-0.337
];

// WHAN demarcation values (log W_Ha) and x split
const whanSplitX = -0.4;
const whanLines = {strong: 0.778, weak: 0.477, passive: -0.301};

// ---------------- DRAW ----------------
const svg = d3.select("#c");
const pairs = a => { const r=[]; for(let i=0;i<a.length;i+=2) r.push([a[i],a[i+1]]); return r; };
const fmt = d3.format(".1f");
const GRAY = "#7a7a7a", ERR = "#b5b5b5";

function panel(x, y, yTicks, id) {
  const [x0,x1] = x.range(), [y1,y0] = y.range();
  svg.append("clipPath").attr("id", id).append("rect")
    .attr("x", x0).attr("y", y0).attr("width", x1-x0).attr("height", y1-y0);
  const g = svg.append("g");
  const ax = (gen, tr, labels) => {
    const a = svg.append("g").attr("transform", tr).call(gen.tickSizeInner(-6).tickSizeOuter(0).tickPadding(8)
      .tickFormat(labels ? fmt : () => ""));
    a.select(".domain").remove();
    a.selectAll("text").attr("font-size", 16).attr("font-family", "DejaVu Sans").attr("fill", "#000");
    a.selectAll("line").attr("stroke", "#000");
    return a;
  };
  ax(d3.axisBottom(x).tickValues(xTicks), `translate(0,${y1})`, true);
  ax(d3.axisTop(x).tickValues(xTicks), `translate(0,${y0})`, false);
  ax(d3.axisLeft(y).tickValues(yTicks), `translate(${x0},0)`, true);
  ax(d3.axisRight(y).tickValues(yTicks), `translate(${x1},0)`, false);
  return g;
}

function errorbars(g, xs, ys, xe, ye, x, y, color, cap) {
  xs.forEach((xv, i) => {
    const cx = x(xv), cy = y(ys[i]);
    if (xe && xe[i]) {
      const a = x(xv - xe[i]), b = x(xv + xe[i]);
      g.append("line").attr("x1", a).attr("x2", b).attr("y1", cy).attr("y2", cy).attr("stroke", color);
      [a, b].forEach(p => g.append("line").attr("x1", p).attr("x2", p).attr("y1", cy-cap).attr("y2", cy+cap).attr("stroke", color));
    }
    if (ye && ye[i]) {
      const a = y(ys[i] - ye[i]), b = y(ys[i] + ye[i]);
      g.append("line").attr("x1", cx).attr("x2", cx).attr("y1", a).attr("y2", b).attr("stroke", color);
      [a, b].forEach(p => g.append("line").attr("x1", cx-cap).attr("x2", cx+cap).attr("y1", p).attr("y2", p).attr("stroke", color));
    }
  });
}

function dots(g, xs, ys, x, y, r, color) {
  g.selectAll(null).data(xs.map((v,i)=>[v,ys[i]])).enter().append("circle")
    .attr("cx", d=>x(d[0])).attr("cy", d=>y(d[1])).attr("r", r).attr("fill", color);
}

function legend(x0, y0, w, h, rows, tx, mx, fs, r) {
  const g = svg.append("g");
  g.append("rect").attr("x", x0).attr("y", y0).attr("width", w).attr("height", h)
    .attr("fill", "#fff").attr("stroke", "#000").attr("stroke-width", 1);
  const offs = [0.5, -2.5, 2];
  rows.forEach((ry, i) => {
    mx.forEach((m, j) => {
      g.append("circle").attr("cx", m).attr("cy", ry + (i ? offs[j] : 0)).attr("r", i ? r : 1.4)
        .attr("fill", i === 0 ? GRAY : i === 1 ? "#000" : "#0000ff");
    });
    g.append("text").attr("x", tx).attr("y", ry).attr("dy", "0.35em").attr("font-size", fs).text(legendLabels[i]);
  });
}

function label(t, xp, yp, fs, fam) {
  svg.append("text").attr("x", xp).attr("y", yp).attr("dy", "0.35em").attr("font-size", fs)
    .attr("font-family", fam || "DejaVu Sans").text(t);
}

function arrow(xa, ya, xb, yb) {
  svg.append("line").attr("x1", xa).attr("y1", ya).attr("x2", xb).attr("y2", yb).attr("stroke", "#222").attr("stroke-width", 1);
  const ang = Math.atan2(yb-ya, xb-xa), L = 10, s = 0.45;
  svg.append("path").attr("d", `M${xb-L*Math.cos(ang-s)},${yb-L*Math.sin(ang-s)}L${xb},${yb}L${xb-L*Math.cos(ang+s)},${yb-L*Math.sin(ang+s)}`)
    .attr("fill", "none").attr("stroke", "#222");
}

// ===== Panel 1: BPT =====
const x1 = d3.scaleLinear([-1.5, 0.5], [92, 740]);
const y1 = d3.scaleLinear([-1.0, 1.5], [683, 16]);
const g1 = panel(x1, y1, bptYTicks, "clip1");
const p1 = g1.append("g").attr("clip-path", "url(#clip1)");
const bp = pairs(bptGray);
dots(p1, bp.map(d=>d[0]), bp.map(d=>d[1]), x1, y1, 1.6, GRAY);
// Demarcation curves (published relations)
const kauff = d3.range(-1.5, 0.045, 0.002).map(v => [v, 0.61/(v-0.05)+1.3]);
const kewley = d3.range(-1.5, 0.465, 0.002).map(v => [v, 0.61/(v-0.47)+1.19]);
const cid = [[-0.19, 1.01*-0.19+0.48], [0.5, 1.01*0.5+0.48]];
const ln = d3.line().x(d=>x1(d[0])).y(d=>y1(d[1]));
[kauff, kewley, cid].forEach(c => p1.append("path").attr("d", ln(c.filter(d=>d[1]>-1.3))).attr("fill","none").attr("stroke","#1a1a1a").attr("stroke-width",1.3));
errorbars(p1, bptAgnX, bptAgnY, bptAgnXErr, bptAgnYErr, x1, y1, ERR, 3.5);
errorbars(p1, bptAncX, bptAncY, bptAncXErr, bptAncYErr, x1, y1, "#0000ff", 3.5);
dots(p1, bptAgnX, bptAgnY, x1, y1, 5.8, "#000");
dots(p1, bptAncX, bptAncY, x1, y1, 5.8, "#0000ff");
svg.append("rect").attr("x",92).attr("y",16).attr("width",648).attr("height",667).attr("fill","none").attr("stroke","#000");
label("Seyferts", 447, 143, 19);
label("Transition", 376, 304, 19);
label("Starforming", 189, 544, 19);
label("LINERs", 658, 571, 19);
label("Kewley et al. (2001)", 263, 186, 13.5, "Liberation Sans");
label("Kauffmann et al. (2003)", 106, 255, 13.5, "Liberation Sans");
label("Cid Fernandes et al. (2010)", 542, 119, 13.5, "Liberation Sans");
arrow(180, 240, 211, 221);
arrow(365, 197, 382, 236);
arrow(690, 132, 705, 170);
legend(103, 26, 390, 97, [44, 73, 102], 167, [115, 130, 144], 20, 5.5);
const xl1 = svg.append("text").attr("x", 416).attr("y", 722).attr("dy","0.35em").attr("text-anchor","middle").attr("font-size",17);
xl1.append("tspan").text("log [NII]6584/H"); xl1.append("tspan").attr("font-style","italic").text("α");
const yl1 = svg.append("text").attr("transform","translate(22,350) rotate(-90)").attr("dy","0.35em").attr("text-anchor","middle").attr("font-size",17);
yl1.append("tspan").text("log [OIII]5007/H"); yl1.append("tspan").attr("font-style","italic").text("β");

// ===== Panel 2: WHAN =====
const x2 = d3.scaleLinear([-1.5, 0.5], [105, 724]);
const y2 = d3.scaleLinear([-1.0, 2.5], [1420, 782]);
const g2 = panel(x2, y2, whanYTicks, "clip2");
const p2 = g2.append("g").attr("clip-path", "url(#clip2)");
const wp = pairs(whanGray);
dots(p2, wp.map(d=>d[0]), wp.map(d=>d[1]), x2, y2, 1.6, GRAY);
const seg = (xa, ya, xb, yb) => p2.append("line").attr("x1", x2(xa)).attr("y1", y2(ya)).attr("x2", x2(xb)).attr("y2", y2(yb)).attr("stroke","#000").attr("stroke-width",1.2);
seg(whanSplitX, 2.5, whanSplitX, whanLines.weak);
seg(whanSplitX, whanLines.strong, 0.5, whanLines.strong);
seg(-1.5, whanLines.weak, 0.5, whanLines.weak);
seg(-1.5, whanLines.passive, 0.5, whanLines.passive);
errorbars(p2, whanAgnX, whanAgnY, whanAgnXErr, whanAgnYErr, x2, y2, ERR, 3);
errorbars(p2, whanAncX, whanAncY, whanAncXErr, null, x2, y2, "#0000ff", 3);
dots(p2, whanAgnX, whanAgnY, x2, y2, 5, "#000");
dots(p2, whanAncX, whanAncY, x2, y2, 5, "#0000ff");
svg.append("rect").attr("x",105).attr("y",782).attr("width",619).attr("height",638).attr("fill","none").attr("stroke","#000");
label("Starforming", 167, 922, 17.5);
label("Seyferts", 468, 922, 17.5);
label("LINERs", 468, 1143, 17.5);
label("Retired", 168, 1233, 17.5);
label("Passive", 168, 1361, 17.5);
legend(116, 793, 373, 91, [808, 836, 865], 177, [128, 142, 155], 19.4, 5);
const xl2 = svg.append("text").attr("x", 414).attr("y", 1462).attr("dy","0.35em").attr("text-anchor","middle").attr("font-size",17);
xl2.append("tspan").text("log [NII]6584/H"); xl2.append("tspan").attr("font-style","italic").text("α");
const yl2 = svg.append("text").attr("transform","translate(40,1100) rotate(-90)").attr("dy","0.35em").attr("text-anchor","middle").attr("font-size",17);
yl2.append("tspan").text("log W"); yl2.append("tspan").attr("font-style","italic").attr("font-size",12).attr("baseline-shift","sub").text("Hα");
</script></body></html>
